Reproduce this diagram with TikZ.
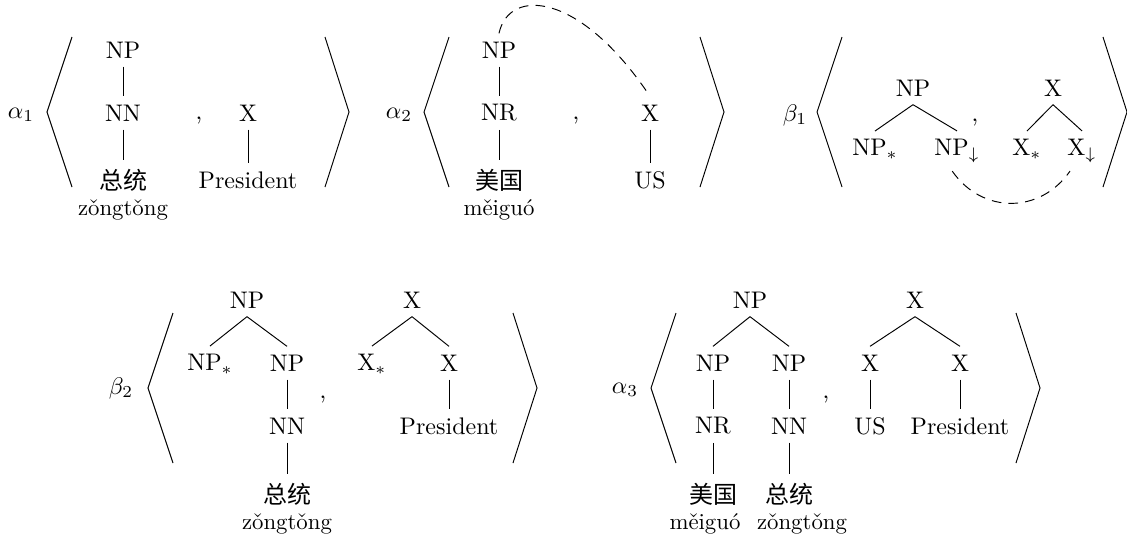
\documentclass[tikz,border=0pt]{standalone}
\usepackage{fontspec}
\newfontfamily\cjk{Noto Sans CJK SC}
\begin{document}
\begin{tikzpicture}[x=0.4167pt,y=-0.4167pt,
	link/.style={dash pattern=on 4pt off 3pt},
	pinyin/.style={font=\fontsize{9.5}{11}\selectfont}]
	\useasboundingbox (0,0) rectangle (1127,538);
	% angle brackets
	\foreach \x/\y in {72/37,449/37,842/37,173/313,676/313}\draw (\x,\y)--++(-25,75)--++(25,75);
	\foreach \x/\y in {325/37,700/37,1103/37,513/313,1016/313}\draw (\x,\y)--++(24,75)--++(-24,75);
	% alpha_1
	\node (a1) at (21,115) {$\alpha_1$};
	\node (a1np) at (123,50) {NP};
	\node (a1nn) at (123,113) {NN};
	\node (a1zt) at (123,180) {\cjk 总统};
	\node[pinyin] (a1py) at (123,210) {zǒngtǒng};
	\node (a1c) at (199,121) {,};
	\node (a1x) at (248,113) {X};
	\node (a1pr) at (248,180) {President};
	% alpha_2
	\node (a2) at (399,115) {$\alpha_2$};
	\node (a2np) at (499,50) {NP};
	\node (a2nr) at (499,113) {NR};
	\node (a2mg) at (499,180) {\cjk 美国};
	\node[pinyin] (a2py) at (499,210) {měiguó};
	\node (a2c) at (576,121) {,};
	\node (a2x) at (650,113) {X};
	\node (a2us) at (650,180) {US};
	\draw[link] (a2np.north) .. controls +(10,-46) and +(-70,-105) .. (a2x.north);
	% beta_1
	\node (b1) at (795,115) {$\beta_1$};
	\node (b1np) at (913,88) {NP};
	\node (b1nps) at (875,149.5) {NP$_*$};
	\node (b1npd) at (957,151) {NP$_\downarrow$};
	\node (b1c) at (975,123) {,};
	\node (b1x) at (1053,88) {X};
	\node (b1xs) at (1027,149.5) {X$_*$};
	\node (b1xd) at (1082,151) {X$_\downarrow$};
	\draw[link] ([xshift=-2pt]b1npd.south) .. controls +(30,43) and +(-30,43) .. ([xshift=-5pt]b1xd.south);
	% beta_2
	\node (b2) at (121,388) {$\beta_2$};
	\node (b2np) at (247,300) {NP};
	\node (b2nps) at (210,364.5) {NP$_*$};
	\node (b2npr) at (287,363) {NP};
	\node (b2nn) at (287,426) {NN};
	\node (b2zt) at (287,494) {\cjk 总统};
	\node[pinyin] (b2py) at (287,524) {zǒngtǒng};
	\node (b2c) at (323,400) {,};
	\node (b2x) at (412,300) {X};
	\node (b2xs) at (372,364.5) {X$_*$};
	\node (b2xr) at (449,363) {X};
	\node (b2pr) at (449,426) {President};
	% alpha_3
	\node (a3) at (625,390) {$\alpha_3$};
	\node (a3np) at (750,300) {NP};
	\node (a3npl) at (713,363) {NP};
	\node (a3npr) at (789,363) {NP};
	\node (a3nr) at (713,426) {NR};
	\node (a3nn) at (789,426) {NN};
	\node (a3mg) at (713,494) {\cjk 美国};
	\node (a3zt) at (789,494) {\cjk 总统};
	\node[pinyin] (a3pyl) at (705,524) {měiguó};
	\node[pinyin] (a3pyr) at (802,524) {zǒngtǒng};
	\node (a3c) at (826,400) {,};
	\node (a3x) at (915,300) {X};
	\node (a3xl) at (870,363) {X};
	\node (a3xr) at (960,363) {X};
	\node (a3us) at (870,426) {US};
	\node (a3pr) at (960,426) {President};
	% tree edges
	\foreach \a/\b in {a1np/a1nn,a1nn/a1zt,a1x/a1pr,a2np/a2nr,a2nr/a2mg,a2x/a2us,b2npr/b2nn,b2nn/b2zt,b2xr/b2pr,
		a3npl/a3nr,a3nr/a3mg,a3npr/a3nn,a3nn/a3zt,a3xl/a3us,a3xr/a3pr}\draw (\a)--(\b);
	\foreach \a/\b in {b1np/b1nps,b1np/b1npd,b1x/b1xs,b1x/b1xd,b2np/b2nps,b2np/b2npr,b2x/b2xs,b2x/b2xr,
		a3np/a3npl,a3np/a3npr,a3x/a3xl,a3x/a3xr}\draw (\a.south)--(\b.north);
\end{tikzpicture}
\end{document}
